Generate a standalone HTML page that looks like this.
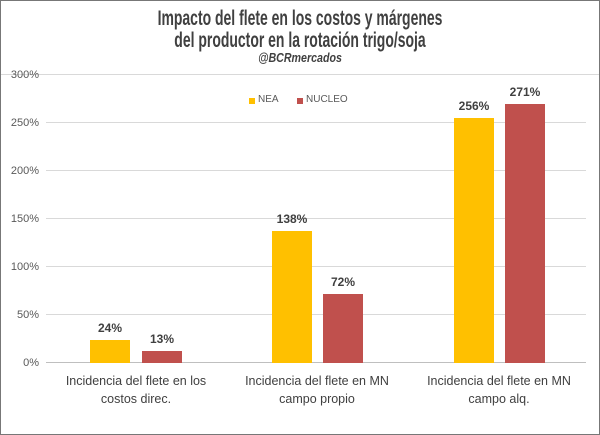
<!DOCTYPE html>
<html><head><meta charset="utf-8"><style>
body{margin:0;background:#fff}
.w{position:relative;width:598px;height:433px;border:1px solid #777;overflow:hidden;font-family:"Liberation Sans",sans-serif;background:#fff}
.a{position:absolute}
.t{left:0;width:598px;text-align:center;font-weight:bold;color:#404040;font-size:21px;line-height:22px;top:7px;transform:scaleX(0.665);transform-origin:299px 0}
.s{left:0;width:598px;text-align:center;font-weight:bold;font-style:italic;color:#404040;font-size:13px;top:49px;transform:scaleX(0.82);transform-origin:299px 0}
.g{left:45px;width:540px;height:1px;background:#d9d9d9}
.yl{left:0;width:38px;text-align:right;font-size:11px;color:#595959}
.b{width:40px}
.n{background:#ffc000}.u{background:#c0504d}
.v{width:60px;text-align:center;font-size:12px;font-weight:bold;color:#404040}
.x{width:180px;text-align:center;font-size:12.5px;color:#404040;line-height:18px}
</style></head><body><div class="w">
<div class="a t">Impacto del flete en los costos y márgenes<br>del productor en la rotación trigo/soja</div>
<div class="a s">@BCRmercados</div>
<div class="a" style="left:0;top:73px;width:598px;height:1px;background:#d9d9d9"></div>
<div class="a g" style="top:121px"></div><div class="a g" style="top:169px"></div><div class="a g" style="top:217px"></div><div class="a g" style="top:265px"></div><div class="a g" style="top:313px"></div><div class="a" style="left:45px;top:361px;width:540px;height:1px;background:#bfbfbf"></div>
<div class="a yl" style="top:68px">300%</div><div class="a yl" style="top:116px">250%</div><div class="a yl" style="top:164px">200%</div><div class="a yl" style="top:212px">150%</div><div class="a yl" style="top:260px">100%</div><div class="a yl" style="top:308px">50%</div><div class="a yl" style="top:356px">0%</div>
<div class="a n" style="left:248px;top:97px;width:6px;height:6px"></div><div class="a" style="left:257px;top:93px;font-size:10px;color:#595959">NEA</div>
<div class="a u" style="left:296px;top:97px;width:6px;height:6px"></div><div class="a" style="left:305px;top:93px;font-size:10px;color:#595959">NUCLEO</div>
<div class="a b n" style="left:89px;top:339px;height:23px"></div><div class="a b u" style="left:141px;top:350px;height:12px"></div>
<div class="a b n" style="left:271px;top:230px;height:132px"></div><div class="a b u" style="left:322px;top:293px;height:69px"></div>
<div class="a b n" style="left:453px;top:117px;height:245px"></div><div class="a b u" style="left:504px;top:103px;height:259px"></div>
<div class="a v" style="left:79px;top:320px">24%</div><div class="a v" style="left:131px;top:331px">13%</div>
<div class="a v" style="left:261px;top:211px">138%</div><div class="a v" style="left:312px;top:274px">72%</div>
<div class="a v" style="left:443px;top:98px">256%</div><div class="a v" style="left:494px;top:84px">271%</div>
<div class="a x" style="left:45px;top:371px">Incidencia del flete en los<br>costos direc.</div>
<div class="a x" style="left:226px;top:371px">Incidencia del flete en MN<br>campo propio</div>
<div class="a x" style="left:408px;top:371px">Incidencia del flete en MN<br>campo alq.</div>
</div></body></html>
